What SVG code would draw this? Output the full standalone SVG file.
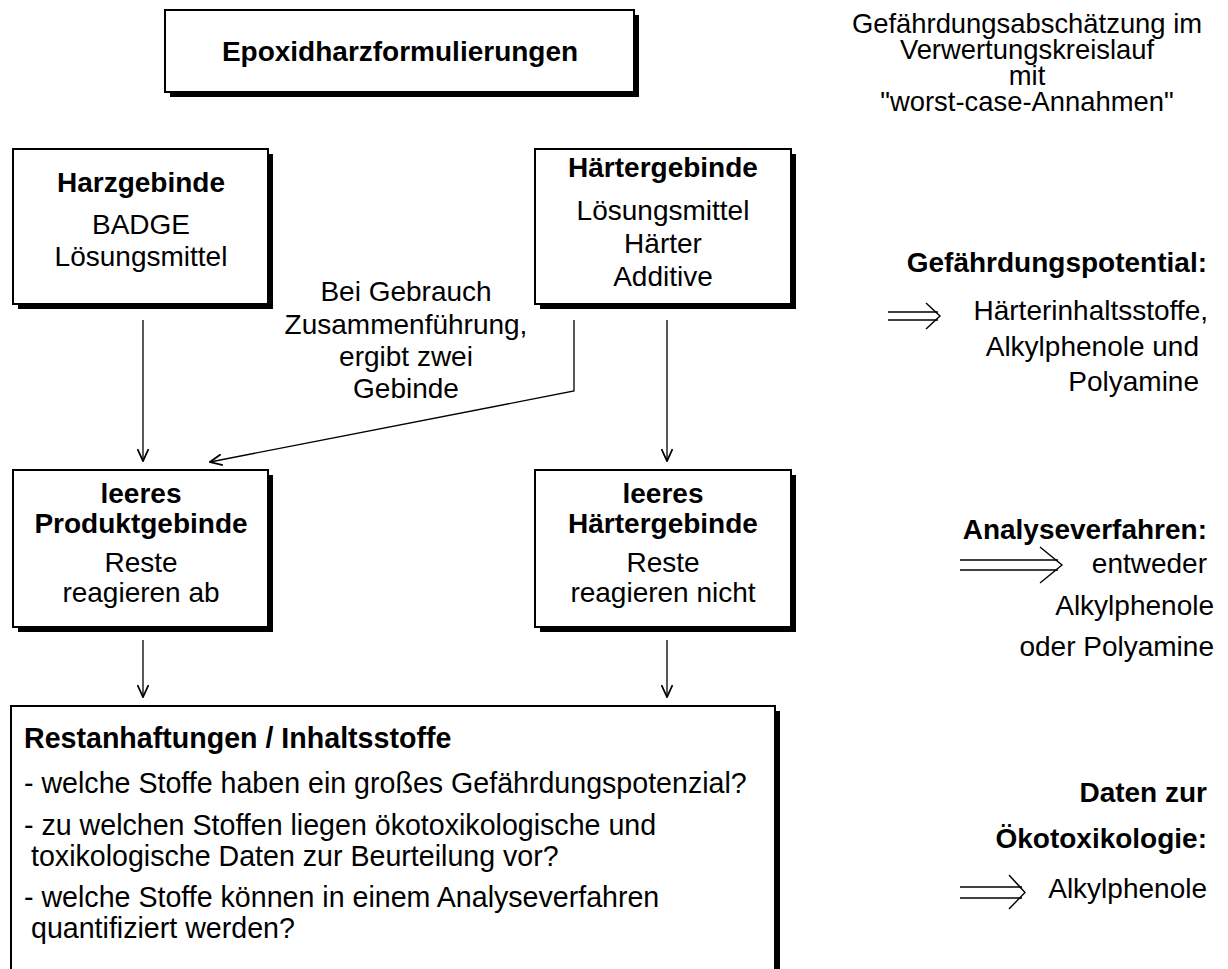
<svg xmlns="http://www.w3.org/2000/svg" width="1228" height="969" viewBox="0 0 1228 969">
<style>
.bg{fill:#fff}
.box{fill:#fff;stroke:#000;stroke-width:2}
.sh{fill:#000}
.t{font-family:"Liberation Sans",Arial,sans-serif;font-size:28px;fill:#000}
.s{font-size:28.6px}
.h{font-size:27.4px}
.b{font-weight:bold}
.m{text-anchor:middle}
.e{text-anchor:end}
.conn{stroke:#000;stroke-width:1.3;fill:none}
.dbl{stroke:#000;stroke-width:1.4;fill:none}
</style>
<defs>
<marker id="arr" markerUnits="userSpaceOnUse" viewBox="0 0 14 12" markerWidth="14" markerHeight="12" refX="13" refY="6" orient="auto">
<path d="M1,0.5 L13,6 L1,11.5" fill="none" stroke="#000" stroke-width="1.8"/>
</marker>
</defs>
<rect class="bg" x="0" y="0" width="1228" height="969"/>

<g id="connectors">
<line class="conn" x1="143" y1="320" x2="143" y2="461" marker-end="url(#arr)"/>
<line class="conn" x1="667" y1="320" x2="667" y2="461" marker-end="url(#arr)"/>
<polyline class="conn" points="574,320 574,391 210,462" marker-end="url(#arr)"/>
<line class="conn" x1="143" y1="640" x2="143" y2="697" marker-end="url(#arr)"/>
<line class="conn" x1="667" y1="640" x2="667" y2="697" marker-end="url(#arr)"/>
</g>

<g id="epoxid">
<rect class="sh" x="170" y="15" width="469" height="82"/>
<rect class="box" x="165" y="10" width="469" height="82"/>
<text class="t b m" x="400" y="61">Epoxidharzformulierungen</text>
</g>

<g id="harzgebinde">
<rect class="sh" x="18" y="154" width="255" height="155"/>
<rect class="box" x="13" y="149" width="255" height="155"/>
<text class="t b m" x="141" y="192">Harzgebinde</text>
<text class="t m" x="141" y="234">BADGE</text>
<text class="t m" x="141" y="266">Lösungsmittel</text>
</g>

<g id="haertergebinde">
<rect class="sh" x="540" y="154" width="256" height="155"/>
<rect class="box" x="535" y="149" width="256" height="155"/>
<text class="t b m" x="663" y="177">Härtergebinde</text>
<text class="t m" x="663" y="220">Lösungsmittel</text>
<text class="t m" x="663" y="253">Härter</text>
<text class="t m" x="663" y="286">Additive</text>
</g>

<g id="label-gebrauch">
<text class="t m" x="406" y="301">Bei Gebrauch</text>
<text class="t m" x="406" y="334">Zusammenführung,</text>
<text class="t m" x="406" y="366">ergibt zwei</text>
<text class="t m" x="406" y="398">Gebinde</text>
</g>

<g id="leeres-produktgebinde">
<rect class="sh" x="18" y="475" width="255" height="157"/>
<rect class="box" x="13" y="470" width="255" height="157"/>
<text class="t b m" x="141" y="503">leeres</text>
<text class="t b m" x="141" y="533">Produktgebinde</text>
<text class="t m" x="141" y="572">Reste</text>
<text class="t m" x="141" y="602">reagieren ab</text>
</g>

<g id="leeres-haertergebinde">
<rect class="sh" x="540" y="475" width="256" height="157"/>
<rect class="box" x="535" y="470" width="256" height="157"/>
<text class="t b m" x="663" y="503">leeres</text>
<text class="t b m" x="663" y="533">Härtergebinde</text>
<text class="t m" x="663" y="572">Reste</text>
<text class="t m" x="663" y="602">reagieren nicht</text>
</g>

<g id="restanhaftungen">
<rect class="sh" x="16" y="711" width="764" height="270"/>
<rect class="box" x="11" y="706" width="764" height="270"/>
<text class="t s b" x="24" y="748">Restanhaftungen / Inhaltsstoffe</text>
<text class="t s" x="24" y="793">- welche Stoffe haben ein großes Gefährdungspotenzial?</text>
<text class="t s" x="24" y="835">- zu welchen Stoffen liegen ökotoxikologische und</text>
<text class="t s" x="31" y="866">toxikologische Daten zur Beurteilung vor?</text>
<text class="t s" x="24" y="907">- welche Stoffe können in einem Analyseverfahren</text>
<text class="t s" x="31" y="938">quantifiziert werden?</text>
</g>

<g id="title-right">
<text class="t h m" x="1027" y="33">Gefährdungsabschätzung im</text>
<text class="t h m" x="1027" y="59">Verwertungskreislauf</text>
<text class="t h m" x="1027" y="85">mit</text>
<text class="t h m" x="1027" y="111">"worst-case-Annahmen"</text>
</g>

<g id="gefaehrdungspotential">
<text class="t b e" x="1207" y="272">Gefährdungspotential:</text>
<line class="dbl" x1="888" y1="312" x2="938" y2="312"/>
<line class="dbl" x1="888" y1="320" x2="938" y2="320"/>
<polyline class="dbl" points="926,303 940,316 926,329"/>
<text class="t e" x="1208" y="320">Härterinhaltsstoffe,</text>
<text class="t e" x="1199" y="356">Alkylphenole und</text>
<text class="t e" x="1199" y="391">Polyamine</text>
</g>

<g id="analyseverfahren">
<text class="t b e" x="1207" y="539">Analyseverfahren:</text>
<line class="dbl" x1="960" y1="560" x2="1058" y2="560"/>
<line class="dbl" x1="960" y1="570" x2="1058" y2="570"/>
<polyline class="dbl" points="1040,547 1062,565 1040,583"/>
<text class="t e" x="1207" y="573">entweder</text>
<text class="t e" x="1214" y="615">Alkylphenole</text>
<text class="t e" x="1214" y="656">oder Polyamine</text>
</g>

<g id="oekotoxikologie">
<text class="t b e" x="1207" y="802">Daten zur</text>
<text class="t b e" x="1207" y="848">Ökotoxikologie:</text>
<line class="dbl" x1="960" y1="887" x2="1022" y2="887"/>
<line class="dbl" x1="960" y1="898" x2="1022" y2="898"/>
<polyline class="dbl" points="1009,875 1025,892.5 1009,909"/>
<text class="t e" x="1207" y="898">Alkylphenole</text>
</g>
</svg>
